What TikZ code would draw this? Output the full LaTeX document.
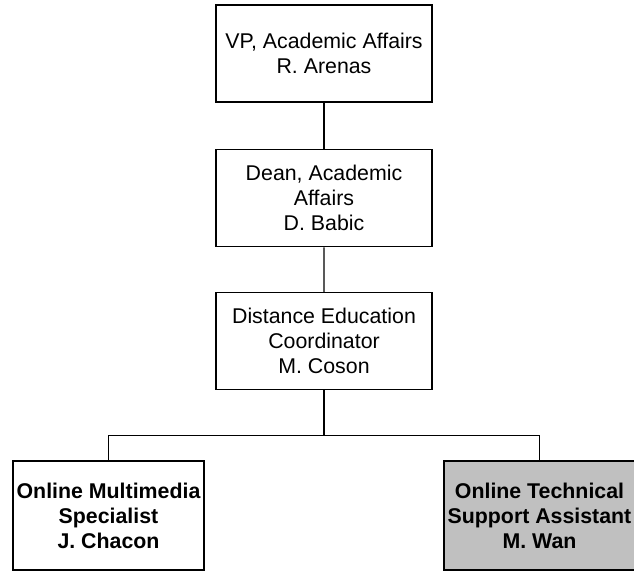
\documentclass[tikz,border=0pt]{standalone}
\usepackage{fontspec}
\setmainfont{Liberation Sans}
\usetikzlibrary{trees}
\definecolor{staffGray}{RGB}{192,192,192}

\begin{document}
\begin{tikzpicture}[every node/.style={align=center, line width=1.1pt,
                        font=\fontsize{16}{18.75}\selectfont},
                    edge from parent/.style={draw, line width=1.1pt},
                    level 1/.style={level distance=108.4pt},
                    level 2/.style={level distance=107.25pt},
                    level 3/.style={level distance=130.9pt, sibling distance=323.25pt,
                        edge from parent path={(\tikzparentnode.south) -- ++(0,-33.75pt) -| (\tikzchildnode.north)}},
                    officeBox/.style={
                        draw, shape=rectangle,
                        minimum width=162pt, minimum height=72.75pt,
                        inner sep=0pt
                    },
                    staffBox/.style={
                        draw, shape=rectangle,
                        minimum width=143.25pt, minimum height=81.75pt,
                        inner sep=0pt,
                        font=\fontsize{16}{18.75}\selectfont\bfseries
                    },
                    shadedStaffBox/.style={staffBox, fill=staffGray}
                   ]

    \useasboundingbox (0,0) rectangle (475.5pt,-428.25pt);

    % Chain of offices down to the two staff positions
    \node[officeBox] (vpBox) at (243pt,-40.125pt) {VP, Academic Affairs\\R. Arenas}
    child {
        node[officeBox] (deanBox) {Dean, Academic\\Affairs\\D. Babic}
        child {
            node[officeBox] (coordBox) {Distance Education\\Coordinator\\M. Coson}
            child {node[staffBox] (multimediaBox) {Online Multimedia\\Specialist\\J. Chacon}}
            child {node[shadedStaffBox] (techBox) {Online Technical\\Support Assistant\\M. Wan}}
        }
    };
\end{tikzpicture}
\end{document}
